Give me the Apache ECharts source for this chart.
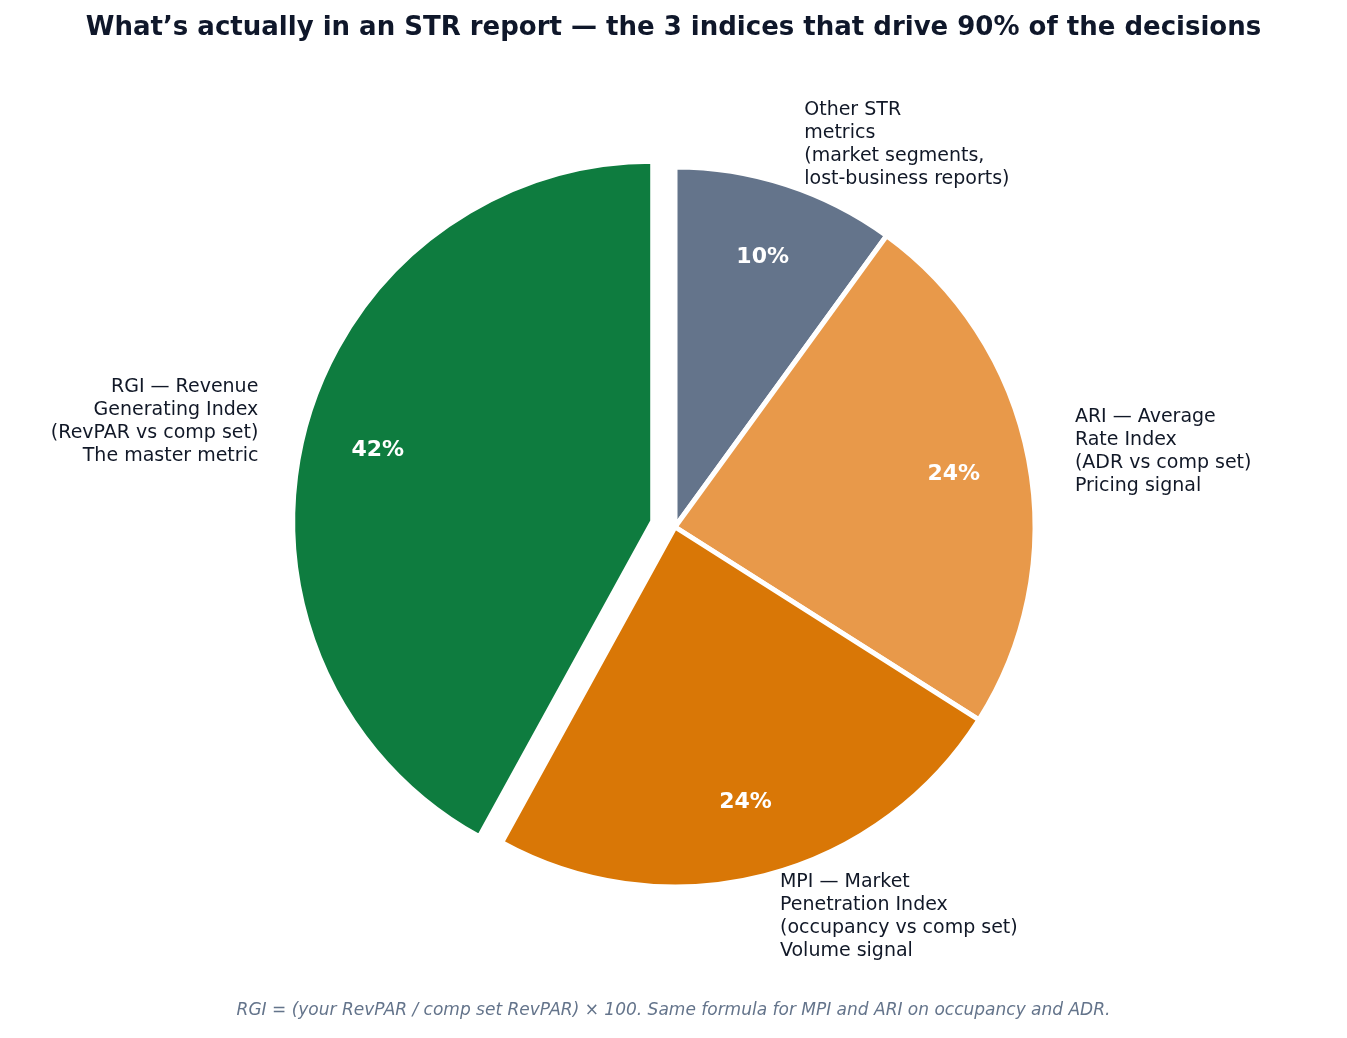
<!DOCTYPE html>
<html>
<head>
<meta charset="utf-8">
<script src="https://cdn.jsdelivr.net/npm/echarts@6/dist/echarts.min.js"></script>
<style>html,body{margin:0;background:#fff}#main{width:1347px;height:1038px}</style>
</head>
<body>
<div id="main"></div>
<script>
// data, clockwise from 12 o'clock
var names = ['Other STR\nmetrics\n(market segments,\nlost-business reports)',
             'ARI — Average\nRate Index\n(ADR vs comp set)\nPricing signal',
             'MPI — Market\nPenetration Index\n(occupancy vs comp set)\nVolume signal',
             'RGI — Revenue\nGenerating Index\n(RevPAR vs comp set)\nThe master metric'];
var values = [10, 24, 24, 42];
var colors = ['#64748b', '#e8994a', '#d97706', '#0e7c3f'];
var exploded = [false, false, false, true];

var chart = echarts.init(document.getElementById('main'));
var font = 'DejaVu Sans';
var R = 360;

function makeData(fill) {
    return values.map(function (v, i) {
        return {
            name: names[i], value: v, selected: exploded[i],
            itemStyle: { color: fill ? colors[i] : 'transparent' }
        };
    });
}

option = {
    animation: false,
    title: {
        text: 'What’s actually in an STR report — the 3 indices that drive 90% of the decisions',
        left: 'center', top: 10,
        textStyle: { fontFamily: font, fontSize: 26, fontWeight: 'bold', color: '#0f172a' }
    },
    graphic: [{
        type: 'text', left: 'center', top: 1002,
        style: {
            text: 'RGI = (your RevPAR / comp set RevPAR) × 100. Same formula for MPI and ARI on occupancy and ADR.',
            font: 'italic 17px "DejaVu Sans"', fill: '#64748b'
        }
    }],
    series: [
        {
            type: 'pie', center: [675, 527], radius: [0, R],
            startAngle: 90, clockwise: true,
            selectedMode: 'multiple', selectedOffset: 23,
            itemStyle: { borderColor: '#fff', borderWidth: 5 },
            label: {
                position: 'outside', fontFamily: font, fontSize: 19, color: '#111827',
                lineHeight: 23, alignTo: 'none'
            },
            labelLine: { show: false, length: 42, length2: 0 },
            emphasis: { disabled: true },
            data: makeData(true)
        },
        {
            type: 'pie', center: [675, 527], radius: [R * 0.56, R],
            startAngle: 90, clockwise: true, silent: true,
            selectedMode: 'multiple', selectedOffset: 23,
            label: {
                position: 'inside', formatter: '{d}%',
                fontFamily: font, fontSize: 22, fontWeight: 'bold', color: '#fff'
            },
            labelLine: { show: false },
            data: makeData(false)
        }
    ]
};

chart.setOption(option);
</script>
</body>
</html>
